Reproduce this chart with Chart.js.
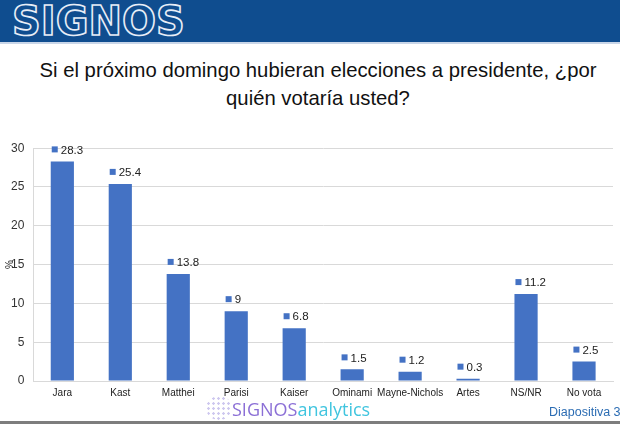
<!DOCTYPE html>
<html>
<head>
<meta charset="utf-8">
<script src="https://cdn.jsdelivr.net/npm/chart.js@4"></script>
<style>
  body { margin: 0; width: 620px; height: 424px; background: #fff; overflow: hidden; font-family: "Liberation Sans", Arial, sans-serif; position: relative; }
  #band { position: absolute; left: 0; top: 0; width: 620px; height: 42px; background: #0f4d8f; border-bottom: 2px solid #c9d6e8; }
  #logo { position: absolute; left: 12px; top: -2px; font: bold 40px "DejaVu Sans", sans-serif; letter-spacing: 0; color: transparent; -webkit-text-stroke: 1.6px #e8eef7; }
  #title { position: absolute; left: 8px; top: 56px; width: 620px; text-align: center; font-size: 20.3px; line-height: 28px; color: #111; }
  #wrap { position: absolute; left: 0; top: 132px; width: 620px; height: 273px; }
  #brand { position: absolute; left: 232px; top: 397px; font: 18px "Open Sans", sans-serif; white-space: nowrap; }
  #brand .a { color: #8b6fd6; }
  #brand .b { color: #41c5df; }
  #dots { position: absolute; left: 206px; top: 396px; width: 26px; height: 24px; border-radius: 50%; background: radial-gradient(circle, #c9c2ee 1px, transparent 1.5px) 0 0/5px 5px; opacity: 0.9; }
  #slide { position: absolute; left: 549px; top: 405px; font-size: 12.5px; color: #2b6cb3; white-space: nowrap; }
  #foot { position: absolute; left: 0; top: 421px; width: 620px; height: 3px; background: #7d7d7d; }
</style>
</head>
<body>
<div id="band"><div id="logo">SIGNOS</div></div>
<div id="title">Si el próximo domingo hubieran elecciones a presidente, ¿por<br>quién votaría usted?</div>
<div id="wrap"><canvas id="chart"></canvas></div>
<div id="dots"></div>
<div id="brand"><span class="a">SIGNOS</span><span class="b">analytics</span></div>
<div id="slide">Diapositiva 3</div>
<div id="foot"></div>
<script>
// Candidate vote intention (%)
const categories = ["Jara", "Kast", "Matthei", "Parisi", "Kaiser", "Ominami", "Mayne-Nichols", "Artes", "NS/NR", "No vota"];
const votes = [28.3, 25.4, 13.8, 9, 6.8, 1.5, 1.2, 0.3, 11.2, 2.5];
const yTicks = [0, 5, 10, 15, 20, 25, 30];

const barColor = "#4472c4";

// value labels with a small square marker above each bar, plus the "%" axis title
const valueLabels = {
  id: "valueLabels",
  afterDatasetsDraw(chart) {
    const { ctx } = chart;
    const meta = chart.getDatasetMeta(0);
    ctx.save();
    ctx.font = "11.5px 'Liberation Sans', Arial, sans-serif";
    ctx.textBaseline = "middle";
    meta.data.forEach((bar, i) => {
      const y = bar.y - 12;
      const x = bar.x - bar.width / 2;
      ctx.fillStyle = barColor;
      ctx.fillRect(x + 1, y - 3, 6, 6);
      ctx.fillStyle = "#222";
      ctx.fillText(String(votes[i]), x + 10, y + 1);
    });
    // rotated "%" title overlapping the 15 tick, as in the source
    const yMid = chart.scales.y.getPixelForValue(15);
    ctx.translate(10, yMid);
    ctx.rotate(-Math.PI / 2);
    ctx.textAlign = "center";
    ctx.fillStyle = "#222";
    ctx.font = "10px 'Liberation Sans', Arial, sans-serif";
    ctx.fillText("%", 0, 0);
    ctx.restore();
  },
};

const ctx = document.getElementById("chart").getContext("2d");
new Chart(ctx, {
  type: "bar",
  data: {
    labels: categories,
    datasets: [
      {
        data: votes,
        backgroundColor: barColor,
        borderWidth: 0,
        categoryPercentage: 1,
        barPercentage: 0.4,
      },
    ],
  },
  options: {
    responsive: true,
    maintainAspectRatio: false,
    animation: false,
    layout: { padding: { left: 2, right: 7, top: 15, bottom: 0 } },
    plugins: { legend: { display: false }, tooltip: { enabled: false } },
    scales: {
      x: {
        grid: { display: false, drawTicks: false },
        border: { color: "#d9d9d9" },
        ticks: { color: "#222", font: { size: 10 }, maxRotation: 0, autoSkip: false, padding: 6 },
      },
      y: {
        min: 0,
        max: 30,
        afterBuildTicks(axis) {
          axis.ticks = yTicks.map((v) => ({ value: v }));
        },
        grid: { color: "#d9d9d9", drawTicks: false },
        border: { color: "#d9d9d9" },
        ticks: { color: "#333", font: { size: 12 }, padding: 9 },
      },
    },
  },
  plugins: [valueLabels],
});
</script>
</body>
</html>
